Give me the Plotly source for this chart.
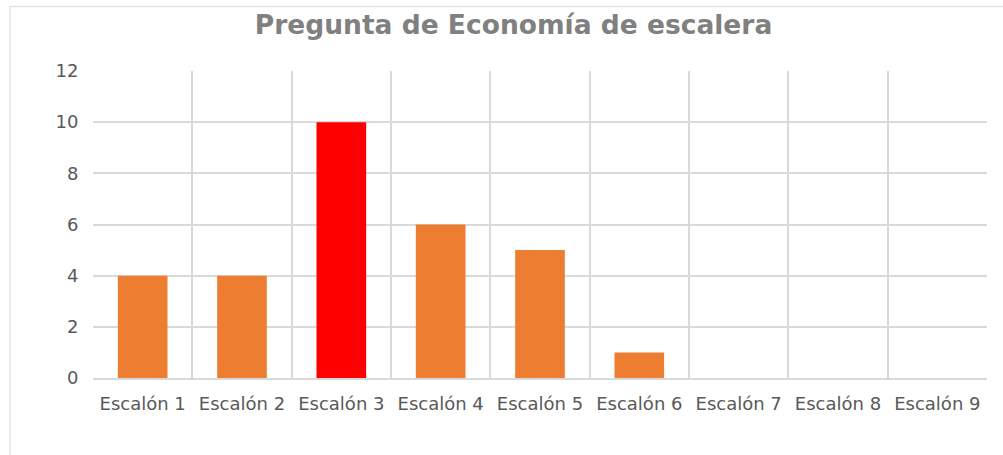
import plotly.graph_objects as go

categories = ["Escalón 1", "Escalón 2", "Escalón 3", "Escalón 4", "Escalón 5",
              "Escalón 6", "Escalón 7", "Escalón 8", "Escalón 9"]
values = [4, 4, 10, 6, 5, 1, 0, 0, 0]
bar_colors = ["#ED7D31", "#ED7D31", "#FF0000", "#ED7D31", "#ED7D31",
              "#ED7D31", "#ED7D31", "#ED7D31", "#ED7D31"]
y_ticks = [0, 2, 4, 6, 8, 10, 12]
title_text = "Pregunta de Economía de escalera"

W, H = 1003, 455

fig = go.Figure(go.Bar(x=categories, y=values, marker_color=bar_colors,
                       marker_line_width=0, width=0.5))

fig.update_layout(
    width=W, height=H,
    margin=dict(l=93, r=16, t=71, b=77),
    paper_bgcolor="white", plot_bgcolor="white",
    showlegend=False,
    title=dict(text="<b>" + title_text + "</b>", x=0.512, xanchor="center",
               y=1 - 25 / H, yanchor="middle",
               font=dict(family="DejaVu Sans", size=26.5, color="#808080")),
    font=dict(family="DejaVu Sans", color="#595959"),
)
fig.update_xaxes(type="category", tickson="boundaries", showgrid=True,
                 gridcolor="#D9D9D9", gridwidth=1.5, ticks="", showline=True,
                 linecolor="#D9D9D9", linewidth=1.5,
                 tickfont=dict(size=18, color="#595959"),
                 ticklabelstandoff=9,
                 range=[-0.5, 8.5])
fig.update_yaxes(range=[0, 12], tickvals=y_ticks, showgrid=True,
                 gridcolor="#D9D9D9", gridwidth=1.5, zeroline=False,
                 showline=False, ticks="outside", ticklen=10,
                 tickcolor="rgba(0,0,0,0)",
                 tickfont=dict(size=18, color="#595959"))

# light outer chart border (top and left edges visible)
fig.add_shape(type="rect", xref="paper", yref="paper",
              x0=-(93 - 10) / (W - 93 - 16), x1=1.05,
              y0=-0.5, y1=1 + (71 - 6.5) / (H - 71 - 77),
              line=dict(color="#E3E3E3", width=1.5), layer="below")

fig.write_html("out.html", config={"displayModeBar": False},
               post_script="document.body.style.margin='0';document.body.style.overflow='hidden';")
